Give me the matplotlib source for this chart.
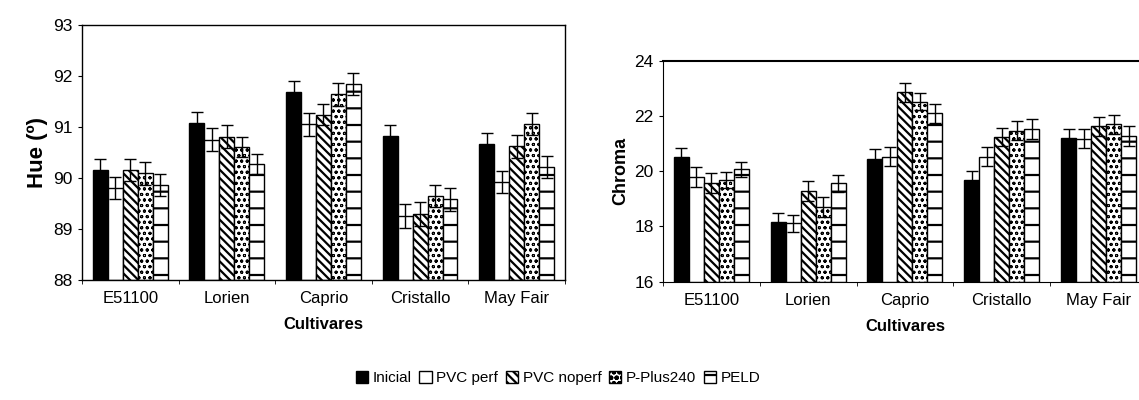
import matplotlib.pyplot as plt
import numpy as np

plt.rcParams['font.family'] = ['Liberation Sans', 'DejaVu Sans']
plt.rcParams['hatch.linewidth'] = 1.6

cultivares = ["E51100", "Lorien", "Caprio", "Cristallo", "May Fair"]
tratamentos = ["Inicial", "PVC perf", "PVC noperf", "P-Plus240", "PELD"]

# Hue (º) por tratamento, na ordem dos cultivares
hue_inicial = [90.16, 91.08, 91.68, 90.82, 90.66]
hue_pvc_perf = [89.80, 90.75, 91.05, 89.25, 89.92]
hue_pvc_noperf = [90.16, 90.81, 91.24, 89.29, 90.62]
hue_pplus = [90.09, 90.61, 91.64, 89.65, 91.06]
hue_peld = [89.86, 90.27, 91.84, 89.58, 90.22]
hue_err = [
    [0.22, 0.22, 0.23, 0.22, 0.22],
    [0.22, 0.23, 0.23, 0.24, 0.22],
    [0.22, 0.23, 0.21, 0.23, 0.23],
    [0.23, 0.20, 0.22, 0.22, 0.21],
    [0.22, 0.20, 0.21, 0.22, 0.22],
]

# Chroma
chroma_inicial = [20.50, 18.17, 20.43, 19.68, 21.20]
chroma_pvc_perf = [19.80, 18.12, 20.53, 20.53, 21.18]
chroma_pvc_noperf = [19.56, 19.29, 22.86, 21.23, 21.62]
chroma_pplus = [19.68, 18.71, 22.52, 21.47, 21.70]
chroma_peld = [20.07, 19.56, 22.10, 21.53, 21.28]
chroma_err = [
    [0.33, 0.33, 0.36, 0.34, 0.32],
    [0.37, 0.31, 0.35, 0.35, 0.34],
    [0.36, 0.36, 0.35, 0.33, 0.36],
    [0.30, 0.37, 0.31, 0.35, 0.34],
    [0.27, 0.32, 0.34, 0.35, 0.36],
]

hue = [hue_inicial, hue_pvc_perf, hue_pvc_noperf, hue_pplus, hue_peld]
chroma = [chroma_inicial, chroma_pvc_perf, chroma_pvc_noperf, chroma_pplus, chroma_peld]

faces = ["black", "white", "white", "white", "white"]
hatches = [None, None, "\\\\\\\\", "ooo", "-"]
hatch_lw = [1.6, 1.6, 1.6, 0.7, 1.6]


def plot_bars(ax, series, errs, ylim, yticks, ylabel, ylabel_size):
    x = np.arange(len(cultivares)) + 0.5
    w = 0.155
    bars = []
    for i, vals in enumerate(series):
        pos = x + (i - 2) * w
        b = ax.bar(pos, np.array(vals) - ylim[0], w, bottom=ylim[0],
                   color=faces[i], edgecolor="black", linewidth=1.0,
                   hatch=hatches[i], label=tratamentos[i], zorder=2)
        for r in b:
            r.set_hatch_linewidth(hatch_lw[i])
        ax.errorbar(pos, vals, yerr=errs[i], fmt="none", ecolor="black",
                    elinewidth=1.0, capsize=4, capthick=1.0, zorder=3)
        bars.append(b)
    ax.set_xlim(0, len(cultivares))
    ax.set_ylim(*ylim)
    ax.set_yticks(yticks)
    ax.set_xticks(x)
    ax.set_xticklabels(cultivares, fontsize=12)
    ax.set_xticks(np.arange(len(cultivares) + 1), minor=True)
    ax.tick_params(axis="x", which="major", length=0, pad=8)
    ax.tick_params(axis="x", which="minor", length=3, direction="out")
    ax.tick_params(axis="y", labelsize=12.5, length=3, direction="out")
    ax.set_xlabel("Cultivares", fontsize=12, fontweight="bold", labelpad=8)
    ax.set_ylabel(ylabel, fontsize=ylabel_size, fontweight="bold")
    return bars


fig = plt.figure(figsize=(11.39, 4.0), dpi=100)
ax1 = fig.add_axes([0.072, 0.30, 0.424, 0.6375])
ax2 = fig.add_axes([0.582, 0.296, 0.425, 0.552])

bars = plot_bars(ax1, hue, hue_err, (88, 93), [88, 89, 90, 91, 92, 93], "Hue (º)", 16)
plot_bars(ax2, chroma, chroma_err, (16, 24), [16, 18, 20, 22, 24], "Chroma", 13)

for sp in ax1.spines.values():
    sp.set_linewidth(1.0)
ax1.spines["top"].set_linestyle((0, (4, 1)))
ax1.spines["right"].set_linestyle((0, (4, 1)))
ax2.spines["right"].set_visible(False)
ax2.spines["left"].set_linestyle((0, (2, 1)))
ax2.spines["top"].set_linewidth(1.5)

fig.legend(bars, tratamentos, loc="center", bbox_to_anchor=(0.49, 0.055),
           ncol=5, frameon=False, fontsize=11, handlelength=0.8,
           handleheight=0.8, handletextpad=0.3, columnspacing=0.5)

fig.savefig("out.png", dpi=100)
